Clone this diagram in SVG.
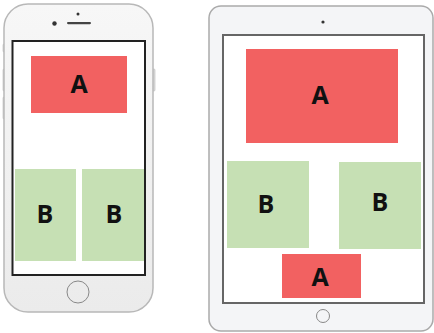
<svg xmlns="http://www.w3.org/2000/svg" width="434" height="333" viewBox="0 0 434 333">
<defs>
<linearGradient id="body" x1="0" y1="0" x2="0" y2="1">
<stop offset="0" stop-color="#f7f7f7"/><stop offset="1" stop-color="#ebebeb"/>
</linearGradient>
</defs>
<style>
.body{fill:url(#body);stroke:#b8b8b8;stroke-width:1.5}
.a{fill:#f26161}
.b{fill:#c6e0b4}
.t{font-family:"Open Sans","DejaVu Sans",sans-serif;font-weight:bold;font-size:25px;fill:#111;text-anchor:middle}
.btn{fill:none;stroke:#888;stroke-width:1}
</style>
<g id="iphone">
<rect x="3" y="44" width="3" height="8" rx="1" fill="#ddd" stroke="#bbb" stroke-width="0.6"/>
<rect x="3" y="69" width="3" height="22" rx="1" fill="#ddd" stroke="#bbb" stroke-width="0.6"/>
<rect x="3" y="97" width="3" height="22" rx="1" fill="#ddd" stroke="#bbb" stroke-width="0.6"/>
<rect x="152" y="69" width="3" height="22" rx="1" fill="#ddd" stroke="#bbb" stroke-width="0.6"/>
<rect class="body" x="4" y="4" width="149" height="308" rx="24"/>
<rect x="12.5" y="41" width="132.5" height="234" fill="#fff" stroke="#222" stroke-width="2"/>
<circle cx="78" cy="14" r="1.5" fill="#333"/>
<circle cx="54.5" cy="23.5" r="2.2" fill="#333"/>
<rect x="67" y="22" width="24" height="2.2" rx="1.1" fill="#444"/>
<circle class="btn" cx="78" cy="292" r="11"/>
</g>
<g id="iphone-a">
<rect class="a" x="31" y="56" width="96" height="57"/>
<text class="t" x="79" y="93">A</text>
</g>
<g id="iphone-b1">
<rect class="b" x="15" y="169" width="61" height="92"/>
<text class="t" x="45" y="223">B</text>
</g>
<g id="iphone-b2">
<rect class="b" x="82" y="169" width="62" height="92"/>
<text class="t" x="114" y="223">B</text>
</g>
<g id="ipad">
<rect x="209" y="6" width="224" height="325" rx="12" fill="#f4f5f7" stroke="#aaa" stroke-width="1.5"/>
<rect x="223" y="35" width="201" height="268" fill="#fff" stroke="#666" stroke-width="2"/>
<circle cx="323" cy="22" r="1.6" fill="#333"/>
<circle class="btn" cx="323" cy="316" r="6.5"/>
</g>
<g id="ipad-a1">
<rect class="a" x="246" y="49" width="152" height="94"/>
<text class="t" x="320" y="104">A</text>
</g>
<g id="ipad-b1">
<rect class="b" x="227" y="161" width="82" height="87"/>
<text class="t" x="266" y="213">B</text>
</g>
<g id="ipad-b2">
<rect class="b" x="339" y="162" width="82" height="87"/>
<text class="t" x="380" y="211">B</text>
</g>
<g id="ipad-a2">
<rect class="a" x="282" y="254" width="79" height="44"/>
<text class="t" x="320" y="286">A</text>
</g>
<g id="connectors"/>
</svg>
